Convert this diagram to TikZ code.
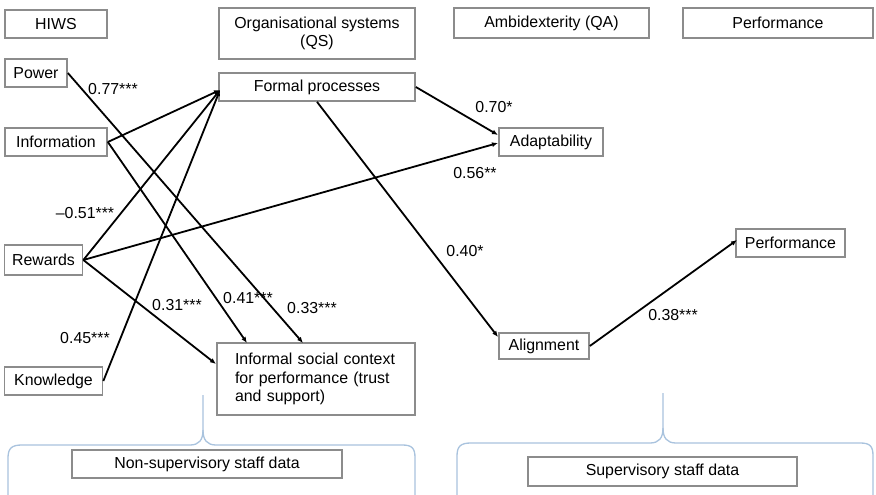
\documentclass[tikz,border=0pt]{standalone}
\usepackage{fontspec}
\setmainfont{Liberation Sans}
\usetikzlibrary{arrows.meta,calc}
\definecolor{boxgray}{HTML}{8C8C8C}
\definecolor{bracecol}{HTML}{A9C3DE}
\begin{document}
\begin{tikzpicture}[x=1pt,y=-1pt,
  box/.style={draw=boxgray,line width=1.7pt,inner sep=0pt,fill=white,
    font=\fontsize{15.9}{18.5}\selectfont},
  lbl/.style={inner sep=0pt,font=\fontsize{15.9}{18.5}\selectfont},
  arr/.style={line width=1.8pt,-{Latex[length=6pt,width=5pt]}},
  brace/.style={draw=bracecol,line width=1.3pt}]
\useasboundingbox[fill=white] (0,0) rectangle (876,495);
% header boxes
\node[box,minimum width=102pt,minimum height=28pt] (hiws) at (56,24) {HIWS};
\node[box,minimum width=196pt,minimum height=51pt,align=center] (qs) at (317,33.5) {Organisational systems\\(QS)};
\node[box,minimum width=195pt,minimum height=30pt] (ambi) at (551.5,23) {Ambidexterity (QA)};
\node[box,minimum width=190pt,minimum height=30pt] (perfh) at (778,23) {Performance};
% model boxes
\node[box,minimum width=62pt,minimum height=28pt] (power) at (36,73) {Power};
\node[box,minimum width=196pt,minimum height=28pt] (formal) at (317,87) {Formal processes};
\node[box,minimum width=102pt,minimum height=28pt] (info) at (56,142) {Information};
\node[box,minimum width=104pt,minimum height=28pt] (adapt) at (551,142) {Adaptability};
\node[box,minimum width=78pt,minimum height=30pt] (rewards) at (43.5,260) {Rewards};
\node[box,minimum width=109pt,minimum height=28pt] (perf) at (790.5,243) {Performance};
\node[box,minimum width=90pt,minimum height=26pt] (align) at (544,346) {Alignment};
\node[box,minimum width=98pt,minimum height=28pt] (know) at (53.5,381) {Knowledge};
\node[box,minimum width=198pt,minimum height=72pt,text width=162pt,align=left] (informal) at (316,379) {Informal social context\\for performance (trust\\and support)};
\node[box,minimum width=270pt,minimum height=28pt] (nonsup) at (207,464) {Non-supervisory staff data};
\node[box,minimum width=269pt,minimum height=29pt] (sup) at (662.5,471.5) {Supervisory staff data};
% connector end points
\coordinate (fpin) at (220,90);
\coordinate (inA) at (247,343);
\coordinate (inB) at (303,343);
\coordinate (inC) at (216,364);
\coordinate (adA) at (498,135);
\coordinate (adB) at (498,143);
\coordinate (alin) at (498,337);
\coordinate (pfin) at (737,240);
% connectors
\draw[arr] (power.east) -- (inB);
\draw[arr] (info.east) -- (fpin);
\draw[arr] (info.east) -- (inA);
\draw[arr] (rewards.east) -- (fpin);
\draw[arr] (rewards.east) -- (adB);
\draw[arr] (rewards.east) -- (inC);
\draw[arr] (know.east) -- (fpin);
\draw[arr] (formal.east) -- (adA);
\draw[arr] (formal.south) -- (alin);
\draw[arr] (align.east) -- (pfin);
% labels
\node[lbl] (l77) at (113,89) {0.77***};
\node[lbl] (l51) at (85,213) {–0.51***};
\node[lbl] (l45) at (85,338) {0.45***};
\node[lbl] (l31) at (177,305) {0.31***};
\node[lbl] (l41) at (248,298) {0.41***};
\node[lbl] (l33) at (312,308) {0.33***};
\node[lbl] (l70) at (494,107) {0.70*};
\node[lbl] (l56) at (475,173) {0.56**};
\node[lbl] (l40) at (465,251) {0.40*};
\node[lbl] (l38) at (673,315) {0.38***};
% braces
\draw[brace] (8,495) -- (8,458) .. controls (8,448) and (12,445) .. (22,445) -- (190,445)
  .. controls (199,445) and (203,440) .. (203,430) -- (203,395);
\draw[brace] (203,430) .. controls (203,440) and (207,445) .. (216,445) -- (402,445)
  .. controls (412,445) and (415,448) .. (415,458) -- (415,495);
\draw[brace] (457,495) -- (457,456) .. controls (457,446) and (461,443) .. (471,443) -- (650,443)
  .. controls (659,443) and (663,438) .. (663,428) -- (663,393);
\draw[brace] (663,428) .. controls (663,438) and (667,443) .. (676,443) -- (860,443)
  .. controls (870,443) and (873,446) .. (873,456) -- (873,495);
\end{tikzpicture}
\end{document}
